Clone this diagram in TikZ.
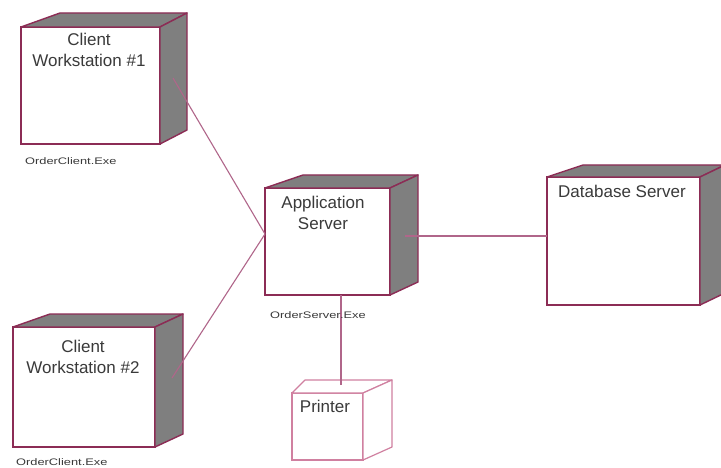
\documentclass[tikz,border=0pt]{standalone}
\usepackage{fontspec}
\setmainfont{Liberation Sans}
\definecolor{edge}{HTML}{8C2C55}
\definecolor{wire}{HTML}{B0668A}
\definecolor{pedge}{HTML}{D080A0}
\definecolor{shade}{HTML}{7F7F7F}
\definecolor{txt}{HTML}{3A3A3A}
\usetikzlibrary{calc}
\tikzset{
  front/.style={draw=edge, line width=1.4pt, fill=white, inner sep=0pt, outer sep=0pt, anchor=north west},
  pfront/.style={draw=pedge, line width=1.2pt, fill=white, inner sep=0pt, outer sep=0pt, anchor=north west},
  face/.style={fill=shade, draw=edge, line width=1.4pt, line join=round},
  pface/.style={fill=white, draw=pedge, line width=1.2pt, line join=round},
  wireline/.style={draw=wire, line width=1.1pt},
  title/.style={text=txt, font=\fontsize{17}{21.5}\selectfont, align=center, inner sep=0pt},
  small/.style={text=txt, font=\fontsize{9.5}{10}\selectfont, inner sep=0pt, anchor=west}
}
\newcommand{\cubeface}[5]{%
  \path[#2] (#1.north west) -- ++(#3,-#5) -- ($(#1.north east)+(#4,-#5)$) -- (#1.north east) -- cycle;
  \path[#2] (#1.north east) -- ++(#4,-#5) -- ($(#1.south east)+(#4,-#5)$) -- (#1.south east) -- cycle;
}
\begin{document}
\begin{tikzpicture}[x=1pt,y=-1pt]
\useasboundingbox (0,0) rectangle (721,468);
\fill[white] (0,0) rectangle (721,468);

% Client Workstation #1
\node[front, minimum width=139pt, minimum height=117pt] (c1) at (21,27) {};
\cubeface{c1}{face}{39}{27}{14}
% Client Workstation #2
\node[front, minimum width=142pt, minimum height=120pt] (c2) at (13,327) {};
\cubeface{c2}{face}{37}{28}{13}
% Application Server
\node[front, minimum width=125pt, minimum height=107pt] (app) at (265,188) {};
\cubeface{app}{face}{38}{28}{13}
% Database Server
\node[front, minimum width=153pt, minimum height=128pt] (db) at (547,177) {};
\cubeface{db}{face}{36}{25}{12}
% Printer
\node[pfront, minimum width=71pt, minimum height=67pt] (pr) at (292,393) {};
\cubeface{pr}{pface}{13}{29}{13}

% connector end points
\coordinate (c1p) at (173,78);
\coordinate (c2p) at (172,378);
\coordinate (appL) at (265,234);
\coordinate (appR) at (405,236);
\coordinate (appB) at (341,295);
\coordinate (dbL) at (547,236);
\coordinate (prT) at (341,385);

\draw[wireline] (c1p) -- (appL);
\draw[wireline] (c2p) -- (appL);
\draw[wireline] (appR) -- (dbL);
\draw[wireline] (appB) -- (prT);

% titles
\node[title] (t1) at (89,50) {Client\\Workstation \#1};
\node[title] (t2) at (83,357) {Client\\Workstation \#2};
\node[title] (t3) at (323,213) {Application\\Server};
\node[title] (t4) at (622,191) {Database Server};
\node[title] (t5) at (325,406) {Printer};

% component labels
\node[small] (l1) at (25,161) {\scalebox{1.35}[1]{OrderClient.Exe}};
\node[small] (l2) at (270,315) {\scalebox{1.35}[1]{OrderServer.Exe}};
\node[small] (l3) at (16,462) {\scalebox{1.35}[1]{OrderClient.Exe}};
\end{tikzpicture}
\end{document}
